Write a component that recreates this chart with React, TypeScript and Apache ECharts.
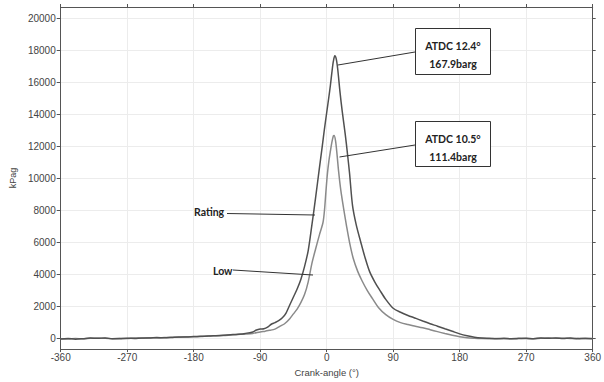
import React, { useEffect, useRef } from "react";
import * as echarts from "echarts";

const yTicks = [0, 2000, 4000, 6000, 8000, 10000, 12000, 14000, 16000, 18000, 20000];

const ratingAngles = [
  -360, -350, -340, -330, -320, -310, -300, -290, -280, -270, -260, -250, -240, -230, -220, -210, -200, -190,
  -180, -170, -160, -150, -140, -130, -120, -110, -100, -95, -90, -85, -80, -75, -70, -65, -60, -55, -50, -45,
  -40, -35, -30, -25, -20, -15, -10, -6, -3, 0, 3, 5, 7, 9, 11, 13, 15, 18, 21, 25, 28, 31, 35, 40, 46, 52, 58,
  65, 72, 80, 90, 100, 110, 120, 130, 140, 150, 160, 170, 180, 190, 200, 210, 220, 230, 240, 250, 260, 270, 280,
  290, 300, 310, 320, 330, 340, 350, 360,
];
const ratingValues = [
  -20, 10, -30, 0, 40, 20, 50, -10, 0, 30, 10, 50, 40, 70, 60, 80, 110, 100,
  130, 150, 160, 190, 220, 250, 280, 330, 420, 540, 600, 620, 720, 900, 1000, 1120, 1300, 1600, 2100, 2600,
  3100, 3700, 4500, 5500, 7100, 8800, 10600, 12000, 13100, 14100, 15100, 15800, 16600, 17300, 17650, 17450, 16800, 15400, 14200, 12800, 11600, 10300, 8300, 7100, 6050, 5050, 4200,
  3550, 3020, 2450, 1900, 1650, 1450, 1280, 1100, 930, 780, 620, 460, 300, 180, 90, 40, 20, 0, 20, -10, 10, 30, 0,
  40, 20, 50, 10, 40, -10, 30, 0,
];

const lowAngles = [
  -360, -350, -340, -330, -320, -310, -300, -290, -280, -270, -260, -250, -240, -230, -220, -210, -200, -190,
  -180, -170, -160, -150, -140, -130, -120, -110, -100, -90, -83, -77, -70, -63, -57, -50, -45, -40, -35, -30,
  -25, -20, -15, -10, -5, -3, -1, 1, 3, 5, 7, 9, 10, 12, 14, 16, 19, 23, 27, 31, 36, 42, 48, 55, 62, 70, 80, 90,
  100, 110, 120, 130, 140, 150, 160, 170, 180, 190, 200, 210, 220, 230, 240, 250, 260, 270, 280, 290, 300, 310,
  320, 330, 340, 350, 360,
];
const lowValues = [
  0, -20, 10, -10, 20, 30, 30, 0, 20, 10, 40, 30, 60, 50, 70, 90, 90, 120,
  120, 140, 170, 180, 200, 230, 260, 290, 330, 420, 470, 520, 600, 780, 930, 1250, 1550, 1850, 2250, 2750,
  3550, 4700, 5600, 6450, 7250, 8000, 9200, 10300, 11100, 11700, 12250, 12650, 12680, 12350, 11500, 10500, 9300, 8100, 7000, 6000, 5000, 4200, 3600, 3000, 2500, 1950, 1500, 1200,
  1000, 880, 780, 680, 560, 440, 320, 210, 120, 60, 30, 10, 0, 10, -10, 0, 20, 10, -10, 20, 40, 20,
  30, 10, 20, 0, 10,
];

const pair = (a: number[], v: number[]) => a.map((x, i) => [x, v[i]]);

const FONT = "Lato, 'Liberation Sans', sans-serif";
const ANN = `bold 10.5px ${FONT}`;

export default function App() {
  const ref = useRef<HTMLDivElement>(null);
  useEffect(() => {
    if (!ref.current) return;
    const chart = echarts.init(ref.current, null, { renderer: "svg" });
    const axisColor = "#555";
    const gridColor = "#ececec";
    const labelStyle = { color: "#444", fontSize: 10, fontFamily: "'Liberation Sans', Arial, sans-serif" };
    chart.setOption({
      animation: false,
      backgroundColor: "#fff",
      grid: { left: 60, right: 10, top: 7, bottom: 21, containLabel: false },
      xAxis: [
        {
          type: "value",
          min: -360,
          max: 360,
          interval: 90,
          position: "bottom",
          name: "Crank-angle (°)",
          nameLocation: "middle",
          nameGap: 15,
          nameTextStyle: { ...labelStyle, fontSize: 9.5 },
          axisLine: { show: true, onZero: false, lineStyle: { color: axisColor, width: 1 } },
          axisTick: { show: true, length: 3, lineStyle: { color: axisColor } },
          axisLabel: { ...labelStyle, margin: 3, formatter: (v: number) => String(v) },
          splitLine: { show: true, lineStyle: { color: gridColor, width: 1 } },
        },
        {
          type: "value",
          min: -360,
          max: 360,
          interval: 90,
          position: "top",
          axisLine: { show: true, onZero: false, lineStyle: { color: axisColor, width: 1 } },
          axisTick: { show: true, length: 3, lineStyle: { color: axisColor } },
          axisLabel: { show: false },
          splitLine: { show: false },
        },
      ],
      yAxis: [
        {
          type: "value",
          min: -650,
          max: 20700,
          position: "left",
          name: "kPag",
          nameLocation: "middle",
          nameGap: 39,
          nameRotate: 90,
          nameTextStyle: { ...labelStyle, fontSize: 9 },
          axisLine: { show: true, onZero: false, lineStyle: { color: axisColor, width: 1 } },
          axisTick: { show: true, length: 4, customValues: yTicks, lineStyle: { color: axisColor } },
          axisLabel: { ...labelStyle, margin: 5, customValues: yTicks, formatter: (v: number) => String(v) },
          splitLine: { show: true, lineStyle: { color: gridColor, width: 1 } },
        },
        {
          type: "value",
          min: -650,
          max: 20700,
          position: "right",
          axisLine: { show: true, onZero: false, lineStyle: { color: axisColor, width: 1 } },
          axisTick: { show: true, length: 3, customValues: yTicks, lineStyle: { color: axisColor } },
          axisLabel: { show: false, customValues: yTicks },
          splitLine: { show: false },
        },
      ],
      series: [
        {
          name: "Low",
          type: "line",
          data: pair(lowAngles, lowValues),
          showSymbol: false,
          smooth: 0.3,
          lineStyle: { color: "#8a8a8a", width: 1.5 },
          z: 3,
        },
        {
          name: "Rating",
          type: "line",
          data: pair(ratingAngles, ratingValues),
          showSymbol: false,
          smooth: 0.3,
          lineStyle: { color: "#505050", width: 1.5 },
          z: 4,
        },
      ],
      graphic: [
        { type: "line", shape: { x1: 415, y1: 52, x2: 338, y2: 65 }, style: { stroke: "#333", lineWidth: 1 }, z: 10 },
        { type: "rect", shape: { x: 415.5, y: 28.5, width: 75, height: 46 }, style: { fill: "#fff", stroke: "#333", lineWidth: 1 }, z: 10 },
        { type: "text", x: 453, y: 46, style: { text: "ATDC 12.4°", fill: "#222", font: ANN, textAlign: "center", textVerticalAlign: "middle" }, z: 11 },
        { type: "text", x: 453, y: 63.5, style: { text: "167.9barg", fill: "#222", font: ANN, textAlign: "center", textVerticalAlign: "middle" }, z: 11 },

        { type: "line", shape: { x1: 415, y1: 145, x2: 339.5, y2: 157 }, style: { stroke: "#333", lineWidth: 1 }, z: 10 },
        { type: "rect", shape: { x: 415.5, y: 121.5, width: 75, height: 45 }, style: { fill: "#fff", stroke: "#333", lineWidth: 1 }, z: 10 },
        { type: "text", x: 453, y: 138.5, style: { text: "ATDC 10.5°", fill: "#222", font: ANN, textAlign: "center", textVerticalAlign: "middle" }, z: 11 },
        { type: "text", x: 453, y: 156.5, style: { text: "111.4barg", fill: "#222", font: ANN, textAlign: "center", textVerticalAlign: "middle" }, z: 11 },

        { type: "text", x: 194, y: 212, style: { text: "Rating", fill: "#222", font: ANN, textAlign: "left", textVerticalAlign: "middle" }, z: 11 },
        { type: "line", shape: { x1: 227, y1: 213.5, x2: 315, y2: 215 }, style: { stroke: "#333", lineWidth: 1 }, z: 10 },
        { type: "text", x: 213, y: 271, style: { text: "Low", fill: "#222", font: ANN, textAlign: "left", textVerticalAlign: "middle" }, z: 11 },
        { type: "line", shape: { x1: 233, y1: 270, x2: 313, y2: 275 }, style: { stroke: "#333", lineWidth: 1 }, z: 10 },
      ],
    });
    return () => chart.dispose();
  }, []);
  return <div ref={ref} style={{ width: 604, height: 382, position: "absolute", left: 0, top: 0 }} />;
}
